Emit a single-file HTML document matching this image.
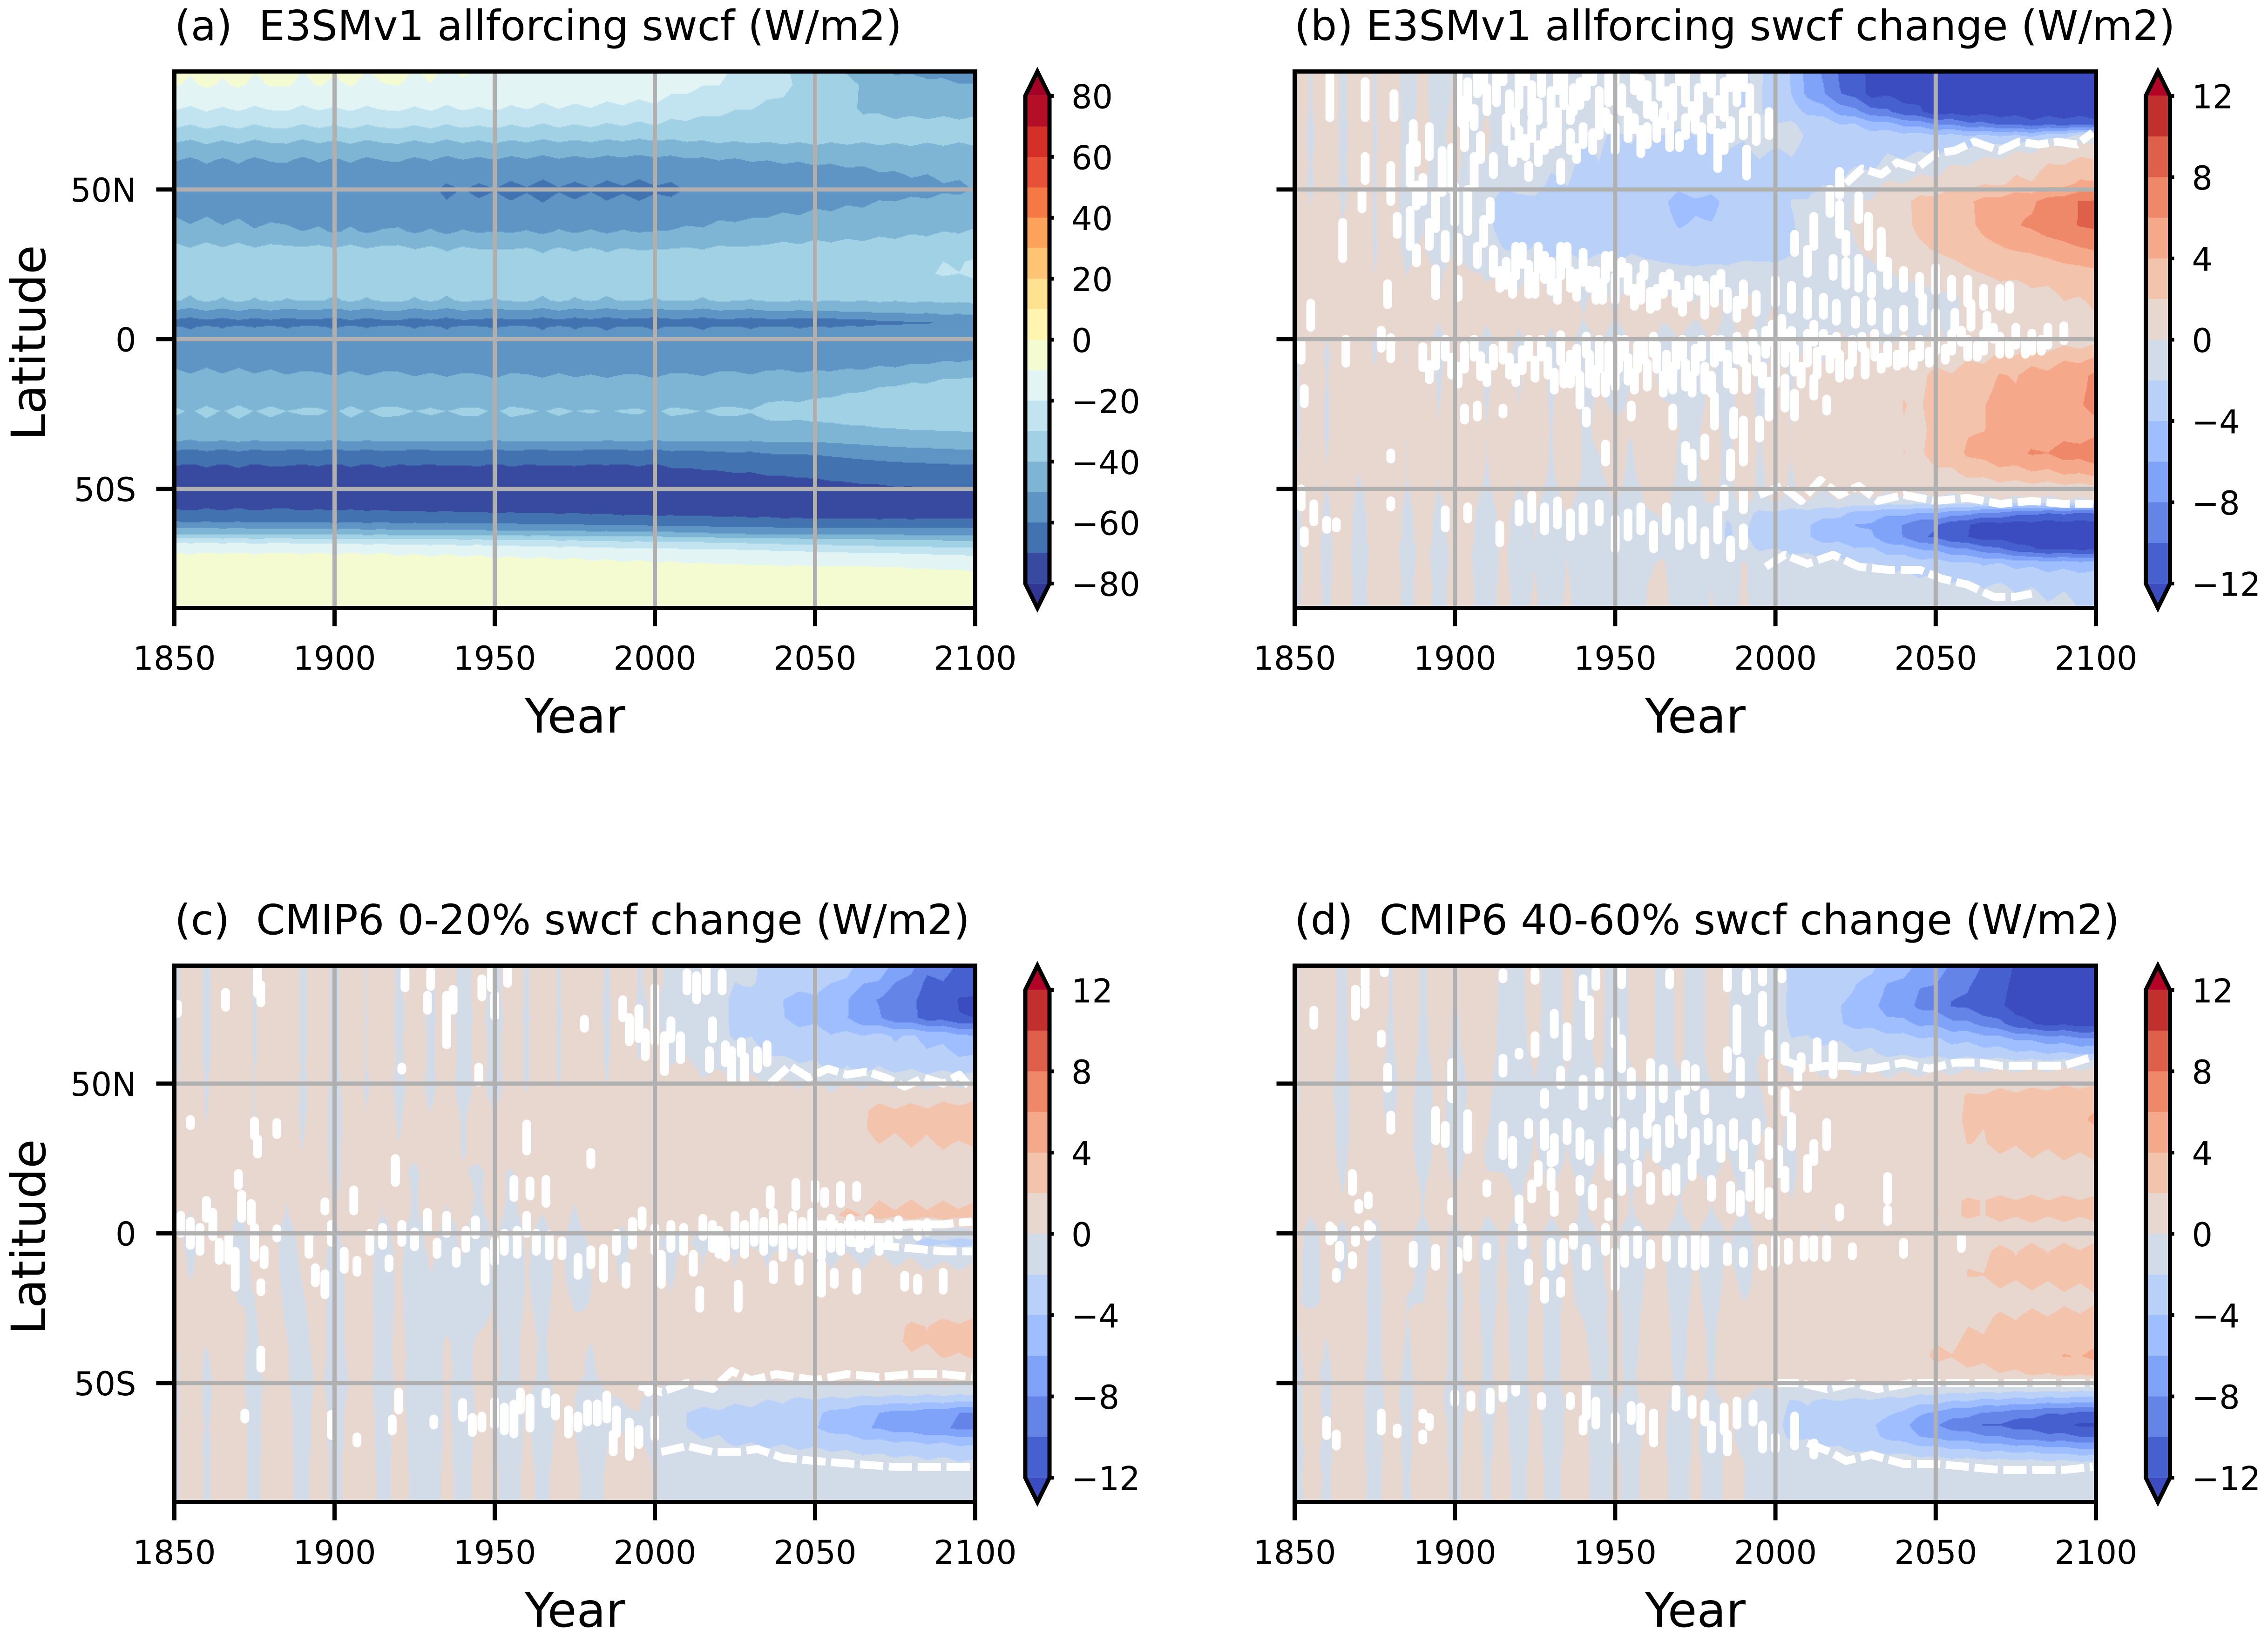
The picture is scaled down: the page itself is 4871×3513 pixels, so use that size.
<!DOCTYPE html>
<html lang="en">
<head>
<meta charset="utf-8">
<title>SWCF latitude-time panels</title>
<style>
html,body{margin:0;padding:0;background:#fff;}
svg{display:block;}
text{font-family:"DejaVu Sans","Liberation Sans",sans-serif;fill:#000;}
.title{font-size:89px;white-space:pre;}
.axis-label{font-size:102px;}
.tick-label{font-size:70px;}
</style>
</head>
<body>
<svg id="figure" xmlns="http://www.w3.org/2000/svg" width="4871" height="3513" viewBox="0 0 4871 3513">
  <rect x="0" y="0" width="4871" height="3513" fill="#ffffff"/>
  <text class="title" x="375" y="86" xml:space="preserve">(a)  E3SMv1 allforcing swcf (W/m2)</text>
  <text class="title" x="2780" y="86" xml:space="preserve">(b) E3SMv1 allforcing swcf change (W/m2)</text>
  <text class="title" x="375" y="2006" xml:space="preserve">(c)  CMIP6 0-20% swcf change (W/m2)</text>
  <text class="title" x="2780" y="2006" xml:space="preserve">(d)  CMIP6 40-60% swcf change (W/m2)</text>
  <text class="axis-label" x="1235" y="1573" text-anchor="middle">Year</text>
  <text class="axis-label" x="3641" y="1573" text-anchor="middle">Year</text>
  <text class="axis-label" x="1235" y="3493" text-anchor="middle">Year</text>
  <text class="axis-label" x="3641" y="3493" text-anchor="middle">Year</text>
  <text class="axis-label" transform="translate(97,736) rotate(-90)" text-anchor="middle">Latitude</text>
  <text class="axis-label" transform="translate(97,2656) rotate(-90)" text-anchor="middle">Latitude</text>
</svg>
<script>
/* ---------- shared axis values ---------- */
const yearTicks = [1850, 1900, 1950, 2000, 2050, 2100];
const latTickValues = [50, 0, -50];
const latTickLabels = ['50N', '0', '50S'];
const streakYears = [1850,1855,1860,1865,1870,1875,1880,1885,1890,1895,1900,1905,1910,1915,1920,1925,1930,1935,1940,1945,1950,1955,1960,1965,1970,1975,1980,1985,1990,1995,2000,2005,2010,2015,2020,2025,2030,2035,2040,2045,2050,2055,2060,2065,2070,2075,2080,2085,2090,2095,2100];

/* ---------- colour levels ---------- */
const levelsMean = [-80,-70,-60,-50,-40,-30,-20,-10,0,10,20,30,40,50,60,70,80];
const colorsMean = ['#313695','#374a9f','#4372b1','#5f95c4','#7eb5d5','#a1d1e4','#c2e4f0','#e2f4f4','#f5fbd1','#fff5b0','#fee292','#fdc476','#fca25b','#f57944','#e75137','#d43027','#b40f26','#a50026'];
const cbarTicksMean = [80,60,40,20,0,-20,-40,-60,-80];
const levelsChange = [-12,-10,-8,-6,-4,-2,0,2,4,6,8,10,12];
const colorsChange = ['#3b4cc0','#4760d0','#6484e8','#7fa3f8','#9ebeff','#b9d0f9','#d2dbe8','#e8d7cf','#f4c3ac','#f6a98a','#ef8769','#de604b','#c2302e','#b40426'];
const cbarTicksChange = [12,8,4,0,-4,-8,-12];

/* ---------- panel (a): mean swcf ---------- */
const yearsA = [1850,1900,1950,2000,2025,2050,2075,2100];
const latsA = [90,85,77,74,71,66,60,55,50,46,40,36,30,26,22,18,13,10,7,5.5,4,0,-7,-10,-13,-20,-24,-28,-31,-34,-37,-42,-50,-57,-60,-61,-63,-65,-66.5,-68,-71.5,-76,-90];
const swcfA = [
[-8,-8.5,-10.2,-14,-20,-35,-52,-55],
[-10,-10.5,-12,-15,-22,-33,-45,-50],
[-20,-20,-20,-22,-29,-35,-44,-43],
[-25,-25,-25,-28,-32,-36,-40,-40],
[-30,-30,-30,-31,-34,-36,-37,-37],
[-40,-40,-40,-41,-39.5,-39,-39,-39],
[-50,-50,-51,-52,-50,-48,-46,-45],
[-55,-55,-57,-58,-56,-55,-50.5,-48],
[-57,-57,-61.5,-61.5,-58,-56,-54,-50],
[-56,-57,-59,-59,-56,-53,-49.5,-47],
[-50,-53,-55,-54,-50.5,-47.5,-45,-43],
[-46,-50,-50.5,-50,-47,-44,-42,-39.5],
[-38,-38,-40,-40,-39,-37,-36,-34],
[-35,-35,-36,-36,-35,-34,-32,-29.5],
[-34,-34,-34,-34,-34,-33,-31,-29],
[-36,-36,-36,-36,-36,-36,-34,-32],
[-40,-40,-40,-40,-40,-39.5,-39,-38],
[-50,-50,-50,-50,-50,-48,-46,-45],
[-59.5,-59.5,-59.5,-60,-60,-60,-56,-53],
[-66,-64,-65,-68,-68,-68,-62,-58],
[-59.5,-59.5,-59.5,-60,-60,-60,-57,-55],
[-55,-56,-56,-56,-56,-56,-55,-54],
[-54,-54,-54,-54,-54,-53,-52,-50],
[-50.5,-52,-53,-53,-52,-51,-49,-46],
[-47,-48,-49,-49,-48,-47,-42,-39.5],
[-43,-43,-43,-43,-43,-40,-36,-35],
[-39.6,-39.6,-39.7,-39.9,-39.6,-37,-35,-34],
[-42,-42,-42,-42,-42,-40.5,-38,-37],
[-45,-45,-45,-45,-45,-44,-41,-40],
[-50,-50,-50,-50,-50,-49,-46,-45],
[-60,-60,-60,-60,-59,-57,-52,-50],
[-70,-70,-70,-70,-68,-66,-62,-60],
[-76,-76,-76,-76,-75,-73,-71,-70],
[-70,-70,-72,-73,-73,-73,-73,-73],
[-62,-63,-65,-68,-69,-70,-70,-70],
[-60,-61,-62,-65,-66,-67,-67,-68],
[-50,-52,-54,-57,-59,-60,-60,-60],
[-42,-42,-44,-46,-50,-51,-52,-53],
[-30,-31,-33,-36,-39,-41,-42,-44],
[-20,-21,-23,-28,-30,-33,-35,-37],
[-10,-10,-11,-13,-15,-18,-20,-22],
[-6,-6,-7,-8,-9,-9.5,-10,-11],
[-2,-2,-2,-2,-2,-2,-2,-2]
];
const streakNorthA = [
.9,-1.2,1.5,-.8,1.4,-1.3,.8,1.2,-1.5,1,
-.8,1.3,-1.1,.7,1.4,-.9,1.2,-1.4,.9,-.7,
1.2,-1,.8,-1.3,.9,-.6,1,-.8,.6,-1,
.7,-.8,.6,-.5,.8,-.7,.6,-.5,.7,-.6,
.8,-.6,.5,-.8,.6,-.5,.7,-.6,.5,-.7,.5];
const streakTropicsA = [
1,-1.4,1.6,-1,1.8,-.6,1.5,-1.2,1.2,.6,
-1.3,1.5,-.8,1.3,1.7,-1,1.4,-1.2,1.6,.8,
-1.3,1.5,1.1,-1.2,1.7,-1,.9,-1.3,1,.7,
-1.2,1.4,.9,-1,1.5,1.2,-.8,1.3,1.5,-.5,
.6,-.6,.5,-.5,.6,-.5,.4,-.5,.5,-.4,.3];
const streakSouthA = [
.3,-.4,.5,-.3,.6,-.4,.3,.5,-.4,.3,
-.5,.4,-.3,.5,-.4,.3,-.4,.5,-.3,.4,
-.5,.3,-.4,.4,-.3,.5,-.3,.3,-.5,.3,
-.3,.2,-.2,.3,-.2,.2,-.2,.2,-.2,.2,
-.2,.2,-.1,.2,-.2,.1,-.2,.1,-.1,.2,-.1];

/* ---------- panel (b): E3SMv1 change ---------- */
const yearsB = [1850,1880,1900,1920,1950,1975,2000,2015,2030,2050,2065,2080,2100];
const latsB = [89.5,82,76,72,68,64,58,52,46,38,30,22,14,7,1,-5,-12,-22,-30,-38,-45,-50,-54,-58,-62,-66,-70,-75,-82,-90];
const changeB = [
[.3,.2,-.3,-.6,-.8,-1,-2.4,-8.5,-12.5,-13,-13,-13,-13],
[.3,.2,-.3,-.5,-.7,-1,-2.5,-8,-12.5,-13,-13,-13,-13],
[.3,.2,-.2,-.5,-.7,-1,-2.5,-5,-9,-13,-13,-13,-13],
[.2,.2,-.1,-.4,-.6,-.9,-1.5,-3,-5,-8,-10,-11,-11],
[.2,.2,0,-.4,-2.2,-2.4,-.8,-2.6,-3,-3.5,-4,-4,-1],
[.2,.2,-.1,-.5,-2.5,-2.8,-1.5,-2.7,-2.7,-2.6,-1.5,-.2,1],
[.3,.2,-.2,-.7,-2.8,-2.9,-2.7,-2.6,-2.2,-.5,.6,1.5,3],
[.2,.2,-.3,-1.5,-2.9,-3,-2.8,-2.3,-.4,.8,1.5,2.5,4.5],
[.3,.2,-1,-2.8,-3,-4.6,-2.8,-1,.3,3,4.3,6,8.5],
[.3,.2,-1,-2.7,-3,-4,-2.9,-.8,.5,2.8,4.2,6.5,8.5],
[.3,.2,-.6,-2.3,-2.8,-3,-2.8,-1,.3,2.2,3.4,4.4,6.2],
[.5,.3,.2,-.2,-.6,-1.5,-1.2,-.5,-.4,.8,2.1,2.5,3.5],
[.6,.6,.5,.3,.2,.2,-.2,-.6,-.9,-.4,.6,1.5,2.4],
[.6,.8,.6,.5,.5,.4,-.1,-.5,-.7,-.3,.4,1,1.6],
[.3,.3,.2,.2,-.1,-.2,0,-.2,-.2,0,.2,.2,.5],
[.1,.2,.1,-.1,-.3,-.6,-.2,.2,.3,.8,1.5,2.5,3.5],
[.2,.3,.3,.2,-.1,-.3,.2,.6,.9,2.2,3.3,4.5,6.2],
[.1,.3,.4,.3,.1,-.1,.1,.7,1.1,2.5,4.2,5,6.5],
[.1,.3,.5,.4,.2,.1,.2,.7,1.2,2.2,4.2,4.5,5],
[.2,.3,.4,.4,.2,.1,.2,.7,1.2,2.4,5,6,7.5],
[.3,.4,.3,.3,.2,.1,.1,.5,.8,1.5,2.6,3.5,4.3],
[.2,.3,.2,.1,0,-.1,.1,.3,.5,.6,.7,.9,1.1],
[.1,.2,.1,-.1,-.2,-.2,-.1,-.2,-.5,-.6,-.4,-.3,-.2],
[.1,.1,0,-.3,-.4,-.7,-2.5,-3,-5,-6,-8,-9.5,-10],
[0,.1,-.1,-.3,-.6,-.9,-3,-4.5,-6.5,-10,-13,-13,-13],
[0,.1,-.1,-.3,-.6,-1,-3,-4.5,-6,-10.5,-13,-13,-13],
[0,-.1,-.2,-.4,-.7,-1,-2.2,-3,-4,-6.5,-9,-12,-12.5],
[0,0,-.2,-.4,-.5,-.6,-.3,-1.2,-2.2,-3,-4,-4.5,-5],
[0,.1,-.1,-.3,-.4,-.4,-.4,-.6,-.9,-1.3,-2,-2.3,-2.5],
[.1,0,-.1,-.2,-.3,-.3,-.3,-.4,-.5,-.7,-.9,-1.2,-2.1]
];
const streakNorthB = [
.5,-.4,.6,-.5,.5,-.3,.4,-.5,.3,-.4,
.5,-.3,.4,-.5,.3,.5,-.4,.3,-.5,.4,
-.3,.5,-.4,.3,-.5,.4,-.3,.4,-.3,.4,
-.5,.3,-.3,.2,-.4,.3,-.3,.4,-.2,.3,
-.4,.3,-.3,.4,-.2,.3,-.4,.3,-.2,.3,-.3];
const streakTropicsB = [
-.5,.6,-.3,.5,.6,-.4,.7,-.2,.5,-.6,
.6,.3,-.5,.5,-.4,.5,-.3,.6,-.5,.3,
-.6,.4,.7,-.4,.3,-.5,.4,-.6,.6,-.3,
.4,-.5,.3,-.4,.4,-.3,.4,-.4,.3,-.4,
.4,-.5,.3,-.4,.5,-.3,.4,-.5,.3,-.4,.3];
const streakSouthB = [
-.4,.5,-.3,.6,-.5,.4,.6,-.4,.5,-.3,
.5,.3,-.4,.6,-.2,.4,-.5,.5,-.3,-.4,
.3,-.5,.4,.7,-.4,-.2,.4,-.4,.6,-.3,
.3,-.3,.2,-.3,.3,-.2,.3,-.3,.2,-.3,
.2,-.3,.2,-.2,.3,-.2,.2,-.3,.2,-.2,.2];
const dashesB = [
[1855,8,8],[1852,-4,6],[1853,-19,5],[1866,-4,8],[1877,0,6],[1880,-3,7],[1861,81,14],[1872,80,12],[1881,78,8],[1887,66,12],[1886,58,12],[1872,57,8],[1880,52,12],[1871,46,5],[1888,48,7],[1865,33,12],[1882,38,6],[1886,37,12],[1879,15,7],[1894,19,9],[1901,17,6],[1888,28,5],[1896,56,14],[1899,57,14],[1906,56,10],[1894,43,12],[1900,45,12],[1904,43,14],[1911,43,6],[1901,30,8],[1907,28,6],[1897,31,8],[1892,35,8],
[1901,84,10],[1904,80,12],[1907,86,8],[1910,80,8],[1913,84,10],[1917,78,8],[1920,84,12],[1924,80,10],[1927,86,8],[1930,78,10],[1934,84,12],[1937,80,8],[1941,85,8],[1945,78,10],[1948,84,10],[1952,80,8],[1956,86,6],[1960,80,10],[1964,85,8],[1968,79,10],[1972,84,10],[1976,80,8],[1980,86,8],[1984,80,12],[1988,84,10],[1992,80,8],
[1916,70,8],[1920,66,8],[1924,70,6],[1928,66,6],[1932,71,10],[1936,66,6],[1940,68,6],[1945,72,8],[1950,67,8],[1954,70,6],[1958,66,8],[1963,70,6],[1967,68,8],[1972,71,6],[1977,67,8],[1982,63,12],[1986,70,6],[1990,72,8],[1994,70,8],[1998,72,8],[1923,56,4],[1933,56,6],[1991,59,9],
[1912,26,8],[1916,22,8],[1919,26,10],[1923,20,10],[1926,27,8],[1930,21,10],[1933,26,10],[1936,20,6],[1940,24,10],[1944,18,10],[1947,24,8],[1950,17,8],[1954,20,8],[1958,17,8],[1961,13,6],[1965,18,6],[1969,15,6],[1973,17,6],[1978,13,10],[1981,16,8],[1985,13,6],[1990,15,7],[1994,12,6],
[1890,-6,7],[1894,-5,8],[1899,-9,6],[1903,-6,8],[1908,-9,7],[1912,-6,6],[1917,-9,6],[1921,-7,7],[1925,-10,6],[1929,-8,8],[1933,-3,9],[1936,-10,10],[1939,-17,10],[1942,-10,10],[1945,-5,10],[1948,-8,12],[1951,-5,10],[1954,-10,8],[1957,-6,8],[1960,-12,8],[1963,-6,8],[1966,-10,10],[1969,-5,8],[1972,-12,8],[1975,-7,8],[1978,-13,8],[1981,-4,8],[1985,-10,10],[1988,-3,8],[1991,-13,8],[1994,-7,8],[1997,-1,8],[2000,-8,14],[2003,-3,10],[2006,-7,8],[2010,-3,10],[2013,-8,8],[2017,-5,10],[2020,-9,8],[2024,-4,8],[2028,-8,8],[2031,-2,8],[2035,-5,6],[2040,-4,8],[2045,-3,6],[2050,0,8],[2055,-1,6],[2060,-3,6],[2065,-1,6],[2070,-2,6],[2075,1,6],[2080,-1,6],[2085,1,6],[2090,2,5],
[2003,-18,10],[1998,-20,12],[2006,-22,8],[2012,-16,6],[2016,-22,4],[1981,-24,10],[1987,-28,8],[1990,-34,14],[1995,-30,6],[1968,-26,6],[1978,-36,6],[1986,-42,8],[1974,-42,8],[1972,-38,5],[1955,-24,4],[1941,-26,4],[1947,-38,6],[1903,-25,4],[1907,-24,4],[1880,-39,2],[1915,-24,2],
[2020,52,8],[2017,46,8],[2020,40,10],[2026,44,8],[2022,32,6],[2029,36,10],[2033,30,12],[2012,36,10],[2006,32,6],[2010,26,8],[2018,24,6],[2022,22,8],[2026,22,10],[2030,18,6],[2035,22,8],[2040,20,6],[2045,18,6],[2050,20,8],[2055,17,6],[2060,16,8],[2065,14,6],[2070,14,6],[2073,14,8],[2000,16,8],[2005,14,8],[2010,12,8],[2015,11,6],[2019,9,6],[2025,9,8],[2030,9,6],[2035,6,6],[2040,7,6],[2046,10,8],[2050,5,8],[2056,6,6],[2061,8,8],[2066,5,6],
[1852,-53,6],[1856,-58,6],[1853,-66,4],[1860,-62,3],[1863,-62,2],[1880,-55,2],[1897,-60,6],[1904,-58,4],[1914,-65,6],[1920,-58,6],[1924,-56,8],[1928,-60,8],[1932,-58,8],[1936,-62,8],[1940,-60,8],[1945,-58,6],[1950,-65,10],[1954,-62,8],[1958,-60,8],[1962,-66,8],[1966,-60,8],[1970,-65,8],[1974,-62,10],[1978,-68,8],[1982,-62,10],[1986,-70,6],[1990,-66,6],[1984,-53,6],[1990,-54,6],
[1902,76,8],[1906,74,6],[1909,86,6],[1915,88,4],[1919,74,4],[1922,88,4],[1926,76,6],[1932,86,6],[1936,75,4],[1939,82,8],[1943,88,4],[1947,74,4],[1950,88,4],[1954,74,4],[1958,84,6],[1962,76,4],[1966,80,6],[1970,88,4],[1974,76,4],[1978,86,4],[1982,78,4],[1986,86,4],[1990,86,4],
[1918,62,6],[1922,64,6],[1926,62,6],[1930,68,6],[1938,62,4],[1943,66,6],[1948,72,4],[1956,72,4],[1960,68,6],[1965,74,4],[1970,66,4],[1975,72,4],[1980,72,4],[1984,66,6],[1888,62,6],[1892,66,10],[1903,68,8],[1908,64,8],[1912,58,6],[1890,50,8],[1909,36,8],
[1914,20,6],[1918,18,6],[1921,28,6],[1925,18,6],[1928,24,8],[1932,16,6],[1935,28,6],[1938,18,8],[1942,20,6],[1946,16,6],[1949,26,4],[1952,24,4],[1956,14,6],[1959,23,4],[1963,14,6],[1967,20,4],[1971,12,6],[1976,18,4],[1983,20,4],[1988,10,6],
[1892,-11,5],[1897,-3,6],[1901,-12,6],[1906,-3,6],[1910,-12,5],[1915,-4,6],[1919,-12,5],[1923,-3,6],[1927,-3,6],[1931,-14,6],[1934,-12,6],[1938,-7,8],[1941,-2,6],[1944,-14,8],[1947,-15,6],[1950,-13,6],[1953,-3,6],[1956,-14,6],[1959,-4,6],[1962,-2,6],[1965,-15,6],[1968,-13,8],[1971,-3,6],[1974,-15,6],[1977,-3,6],[1980,-15,6],[1983,-3,6],[1987,-14,6],[1990,-5,6],[1993,-1,6],[1996,-12,6],[1999,2,6],[2002,4,6],[2005,0,6],[2008,-12,6],[2012,2,6],[2015,-1,6],[2019,-2,6],[2023,-10,4],[2027,-1,4],[2033,-8,4],[2038,-7,4],[2043,-7,4],[2048,-6,4],[2053,-5,4],[2058,1,4],[2063,-4,4],[2068,2,4],[2073,-3,4],[2078,-3,4],[2083,-2,4]
];
const linesB = [
[[2022,52],[2027,57],[2033,55],[2038,59],[2044,57],[2050,62],[2056,63],[2062,66],[2070,63],[2076,66],[2082,65],[2088,66],[2094,65],[2099,69]],
[[1995,-52],[2002,-49],[2008,-54],[2014,-47],[2020,-52],[2026,-49],[2032,-54],[2040,-52],[2050,-54],[2060,-53],[2070,-55],[2080,-54],[2090,-55],[2099,-55]],
[[1997,-76],[2003,-72],[2010,-75],[2018,-72],[2026,-76],[2035,-77],[2045,-77],[2052,-80],[2060,-82],[2068,-86],[2075,-86],[2080,-85]]
];

/* ---------- panel (c): CMIP6 0-20% change ---------- */
const yearsC = [1850,1900,1950,1975,1995,2010,2025,2040,2055,2070,2085,2100];
const latsC = [89.5,84,78,72,66,60,55,50,41,35,29,20,11,6,2,-3,-7,-15,-25,-31,-36,-41,-47,-51,-55,-60,-65,-70,-75,-80,-90];
const changeC = [
[.1,.3,.1,.3,.2,-.3,-1.8,-2.3,-3,-5,-9,-10.5],
[.1,.3,.1,.3,.2,-.3,-1.8,-2.5,-3.5,-6.5,-10,-11],
[.1,.3,.1,.3,.1,-.5,-2.2,-4.2,-5,-8.5,-10.5,-12.5],
[.1,.3,0,.3,.1,-.6,-2.2,-4.1,-5.2,-8.2,-10.5,-12.2],
[.1,.3,.1,.3,.2,-.4,-2.1,-2.8,-3.5,-3.8,-4.2,-6],
[.1,.3,.1,.3,.2,-.3,-1,-2.4,-2.8,-3.2,-3.4,-4.3],
[.2,.3,.1,.3,.4,.2,-.4,-.8,-2.1,-2.2,-2.4,-2.7],
[.3,.2,0,.4,.5,.5,.3,.1,-.1,-.2,-.3,-.3],
[.2,.1,.3,.6,.6,.7,.9,1,1.3,2.3,2.6,3],
[.2,.1,.3,.5,.6,.8,1,1.2,1.4,2.4,2.6,3.3],
[.1,.1,.2,.5,.6,.7,.9,1,1.2,1.5,1.9,1.9],
[.2,.1,.1,.3,.5,.5,.5,.6,.7,.7,.7,.7],
[.3,.3,.2,.3,.6,.5,.5,.7,1.3,1.7,1.8,1.7],
[.2,.4,.1,.2,.7,.6,.4,.9,2,2.4,2.6,2.8],
[0,.2,-.1,.1,.2,.2,.2,.3,.4,.2,.1,.3],
[0,0,-.1,-.2,-.2,-.2,-.3,-.5,-1,-1.6,-2.4,-2.6],
[.1,-.1,-.2,-.2,-.1,.1,.2,.1,0,-.2,-.5,-.6],
[.1,-.1,-.3,-.2,0,.2,.3,.4,.4,.6,.6,.7],
[.2,-.1,-.3,0,.3,.4,.5,.7,.8,.9,1.1,1.2],
[.2,-.1,-.2,.1,.4,.5,.6,.8,1.1,1.6,2.2,2.5],
[.2,-.1,-.1,.2,.4,.6,.7,.9,1.2,1.7,2.3,2.9],
[.1,-.1,-.1,.1,.4,.5,.6,.7,.9,1.4,1.8,2.2],
[.1,-.2,-.1,.1,.4,.4,.4,.4,.5,.6,.6,.7],
[.1,-.2,-.2,-.2,.1,-.1,-.1,-.2,-.2,-.1,-.2,-.1],
[.1,-.1,-.3,-.4,-.5,-1,-1.4,-1.9,-2,-2.4,-2.6,-2.6],
[.1,0,-.3,-.4,-.6,-2.2,-2.5,-2.7,-4.3,-6.2,-7,-8.2],
[.2,0,-.2,-.4,-.6,-2.2,-2.6,-3.2,-4.5,-6.3,-7.5,-8.6],
[.1,0,-.2,-.3,-.4,-1.4,-2.1,-2.3,-2.6,-3.5,-4,-4.4],
[.1,.1,-.2,-.2,-.3,-.5,-.9,-1.1,-1.3,-1.6,-2,-2.2],
[.1,.1,-.1,-.1,-.2,-.4,-.5,-.6,-.7,-.8,-.8,-.9],
[.1,.1,-.1,-.1,-.2,-.4,-.5,-.5,-.5,-.6,-.6,-.6]
];
const streakNorthC = [
-.5,.6,-.4,.5,.7,-.3,.4,.8,-.5,.5,
-.6,.4,-.3,.6,-.5,.4,-.4,.5,-.6,.3,
-.5,.4,-.3,.6,-.4,.5,.7,-.5,.8,-.3,
.3,-.2,.2,-.3,.2,-.2,.3,-.3,.2,-.3,
.3,-.4,.3,-.3,.4,-.3,.3,-.4,.3,-.3,.2];
const streakTropicsC = [
.5,-.4,.4,.6,-.5,.3,.5,-.6,.4,.6,
-.4,.5,.6,-.5,.4,-.6,.5,-.4,.3,-.5,
.4,-.6,.3,-.3,.5,-.5,.4,.6,-.3,.7,
.4,-.3,.3,-.2,.3,-.3,.2,-.3,.3,-.2,
.3,-.3,.2,-.3,.3,-.2,.3,-.3,.2,-.3,.2];
const streakSouthC = [
-.4,.6,-.3,.5,.4,-.5,.6,.3,-.6,.5,
-.4,.3,.6,-.5,.5,-.3,-.6,.4,-.4,.5,
.3,-.5,.5,-.3,.6,.4,-.5,.3,.5,.6,
.2,-.2,.2,-.2,.2,-.2,.2,-.2,.2,-.2,
.2,-.2,.2,-.2,.2,-.2,.2,-.2,.2,-.2,.1];
const dashesC = [
[1866,78,5],[1876,84,8],[1877,80,6],[1922,85,6],[1930,85,5],[1935,76,7],[1937,78,7],[1935,68,10],[1949,86,8],[1950,76,7],[1954,86,5],[1929,77,5],[1946,82,6],[1978,70,3],[1945,53,5],[1921,55,1],[1851,75,3],
[1855,37,2],[1875,35,5],[1876,29,5],[1882,35,4],[1960,32,9],[1980,25,4],[1919,21,8],[1956,15,6],[1961,15,5],[1966,14,8],[1870,18,4],[1906,11,7],[1897,9,3],
[1990,75,6],[1992,68,8],[1995,70,10],[1997,63,8],[2000,78,8],[2000,70,12],[2003,60,12],[2005,68,6],[2008,62,8],[2010,84,6],[2013,82,8],[2016,85,8],[2018,68,6],[2021,84,6],[2017,58,6],[2022,60,6],[2024,56,10],[2027,62,4],[2028,55,8],[2032,58,6],[2035,60,6],
[1852,3,6],[1855,0,8],[1858,-2,8],[1860,8,6],[1862,3,8],[1864,-6,6],[1867,-5,8],[1869,-12,12],[1871,9,8],[1874,7,6],[1875,-3,10],[1878,-8,5],[1882,0,3],[1877,-18,3],[1892,-4,6],[1894,-14,5],[1897,-17,7],[1899,0,6],[1903,-9,6],[1907,-11,4],[1911,-3,6],[1915,-1,6],[1917,-10,3],[1921,0,6],[1925,-2,5],[1929,4,6],[1932,-5,4],[1935,3,6],[1938,-8,4],[1941,-2,6],[1944,2,5],[1947,-11,10],[1950,-6,7],[1953,-3,6],[1957,-3,8],[1960,3,6],[1963,-3,6],[1967,-4,7],[1971,-5,5],[1976,-11,6],[1980,-8,5],[1984,-10,10],[1988,-3,6],[1991,-14,6],[1993,0,8],[1996,5,5],[2000,-2,8],[2002,-12,10],[2005,-1,8],[2009,-2,8],[2012,-10,6],[2015,2,6],[2018,-1,8],[2022,-5,6],[2014,-22,6],[2026,-21,8],[2020,-3,8],
[2025,1,10],[2028,-2,10],[2031,2,10],[2034,-1,10],[2037,2,10],[2040,-3,10],[2043,1,10],[2046,-1,10],[2049,1,12],[2052,-3,10],[2055,0,10],[2058,-2,8],[2061,1,8],[2064,-1,8],[2067,1,8],[2070,-2,8],[2073,0,6],[2076,2,5],[2082,1,4],[2085,2,3],
[2044,13,8],[2050,14,5],[2053,12,4],[2058,13,6],[2063,14,4],[2037,-13,5],[2045,-13,6],[2052,-15,10],[2056,-15,4],[2063,-16,6],[2078,-16,4],[2082,-17,4],[2090,-16,6],[2036,12,5],
[1877,-42,6],[1872,-61,2],[1899,-64,7],[1907,-69,2],[1920,-56,6],[1918,-64,4],[1931,-63,2],[1940,-59,5],[1943,-64,5],[1946,-63,4],[1950,-60,8],[1953,-62,8],[1956,-62,10],[1958,-56,6],[1961,-60,10],[1966,-55,4],[1969,-58,6],[1973,-63,8],[1976,-63,4],[1979,-60,6],[1982,-60,6],[1985,-58,8],[1988,-63,8],[1992,-66,6],[1987,-70,6],[1992,-72,5],[1995,-68,5],[2000,-65,6],[1998,-52,2]
];
const linesC = [
[[2036,50],[2042,56],[2048,52],[2054,55],[2060,53],[2066,54],[2072,52],[2078,49],[2084,52],[2090,50],[2095,53],[2099,48]],
[[1995,-51],[2002,-53],[2010,-50],[2018,-52],[2024,-46],[2030,-49],[2038,-47],[2050,-49],[2060,-47],[2070,-48],[2080,-47],[2090,-47],[2099,-48]],
[[2002,-73],[2010,-71],[2018,-73],[2026,-73],[2032,-72],[2040,-75],[2050,-76],[2062,-77],[2075,-78],[2088,-78],[2099,-78]],
[[2060,-3],[2070,-4],[2080,-5],[2090,-6],[2099,-6]],
[[2050,3],[2060,3],[2070,2],[2080,3],[2090,3],[2099,4]]
];

/* ---------- panel (d): CMIP6 40-60% change ---------- */
const yearsD = [1850,1900,1950,1975,1995,2005,2020,2035,2050,2065,2080,2100];
const latsD = [89.5,82,76,70,65,60,56,51,46,38,30,24,16,11,6,1,-6,-14,-22,-28,-35,-41,-47,-51,-56,-60,-64,-68,-72,-77,-82,-90];
const changeD = [
[.2,.2,-.2,-.1,-.3,-2.2,-2.6,-4.5,-7,-10,-13,-13],
[.2,.2,-.2,-.1,-.3,-2.2,-2.8,-6,-8.5,-11,-13,-13],
[.2,.2,-.2,-.1,-.3,-2.3,-4.2,-6.5,-9,-11.5,-13,-13],
[.2,.1,-.2,-.1,-.3,-2.2,-4.1,-5.2,-6.5,-8.5,-12.1,-13],
[.2,.1,-.2,-.1,-.3,-1.8,-2.4,-3,-4,-5,-6.5,-8],
[.2,0,-.2,-.1,-.2,-.5,-1.5,-2.2,-2.6,-3,-3.6,-4.2],
[.2,-.1,-.3,-.2,-.1,0,-.3,-.5,-.6,-.5,-.4,-.3],
[.2,-.2,-.4,-.4,-.2,.3,.4,.4,.6,.9,1,1.2],
[.1,-.2,-.5,-.5,-.3,.3,.6,.8,1.1,2.3,2.8,3.2],
[.2,-.2,-.5,-.7,-.4,.1,.6,1,1.5,2.3,3,4.2],
[.2,-.2,-.4,-.5,-.3,0,.6,.9,1.2,2.1,2.5,2.8],
[.2,-.1,-.3,-.3,-.2,0,.5,.7,.9,1.2,1.6,1.8],
[.3,.2,.1,0,0,.1,.4,.5,.6,.7,.8,.8],
[.4,.3,.2,.2,.1,.2,.4,.6,1.7,2.2,2.3,2.3],
[.4,.3,.2,.1,0,.2,.4,.8,1.8,2.2,2.4,2.4],
[.1,0,-.2,-.3,-.2,.2,.3,.6,.8,.9,1,1.1],
[0,-.1,-.3,-.4,-.2,.2,.4,.6,.9,2,2.2,2.4],
[0,0,-.2,-.3,-.1,.2,.4,.6,1,2.3,2.5,2.7],
[0,-.1,-.2,-.2,0,.3,.5,.6,.9,1.2,1.3,1.6],
[.1,0,-.1,-.1,.2,.5,.6,.7,1,1.9,2.2,2.5],
[.1,0,-.1,0,.3,.5,.7,.9,1.6,2.3,2.9,3.4],
[.1,0,-.1,0,.3,.5,.7,1,2.1,2.6,3.4,4.4],
[0,0,0,.1,.3,.4,.5,.7,1.2,1.6,2,2.4],
[.1,-.1,0,.1,.3,-.1,0,.1,-.2,-.1,-.2,-.2],
[.1,-.2,-.2,-.1,-.4,-2,-2.2,-2.5,-3.5,-4.5,-5,-5.5],
[.1,-.1,-.2,-.2,-.5,-2.3,-2.6,-3.5,-6.5,-8,-9.5,-10.5],
[.1,0,-.2,-.3,-.5,-2.6,-2.9,-4.5,-8,-10,-11,-12.5],
[.1,0,-.2,-.3,-.5,-2.2,-2.7,-4.2,-6.5,-7.5,-9,-10],
[0,0,-.2,-.3,-.4,-1,-2,-2.5,-3.5,-4.5,-5,-6],
[0,.1,-.1,-.2,-.3,-.5,-.5,-.6,-.8,-.8,-1,-1.2],
[.1,.1,-.1,-.2,-.3,-.5,-.5,-.6,-.6,-.7,-.7,-.7],
[0,.1,-.1,-.2,-.3,-.5,-.5,-.5,-.5,-.5,-.5,-.5]
];
const streakNorthD = [
-.4,.5,.3,-.5,.6,.4,-.3,.6,-.4,.5,
-.3,.4,.6,-.4,-.2,.3,-.4,.3,-.2,.4,
-.3,.3,.5,-.2,.3,-.3,.4,.3,-.4,.2,
.3,-.2,.2,-.3,.3,-.2,.3,-.3,.2,-.3,
.3,-.3,.3,-.2,.3,-.3,.2,-.3,.3,-.2,.2];
const streakTropicsD = [
.5,-.5,.4,-.3,.6,-.4,.7,.3,-.4,.5,
-.3,.6,-.4,.3,-.5,.5,-.2,.4,-.5,.3,
.5,-.4,.3,.5,-.4,.5,-.3,.4,-.2,.5,
.3,-.2,.2,-.3,.2,-.3,.3,-.2,.3,-.2,
.3,-.3,.2,-.3,.3,-.2,.3,-.3,.2,-.3,.2];
const streakSouthD = [
-.5,.4,-.3,.6,.3,-.5,.5,-.3,.6,.4,
-.4,.5,-.2,.4,-.5,.5,-.4,.3,.5,-.5,
.3,-.3,.6,.4,-.4,.5,-.3,.5,.3,-.3,
.2,-.2,.2,-.2,.2,-.2,.2,-.2,.2,-.2,
.2,-.2,.2,-.2,.2,-.2,.2,-.2,.2,-.2,.1];
const dashesD = [
[1872,86,6],[1869,77,9],[1872,79,5],[1856,72,5],[1877,65,3],[1915,56,5],[1925,63,6],[1935,64,10],[1942,72,12],[1950,67,8],[1952,60,10],[1931,70,7],[1920,60,1],[1961,54,6],[1972,52,9],[1933,52,5],[1940,47,9],[1950,44,8],[1961,44,11],[1970,42,9],[1978,44,6],[1989,52,11],[1988,68,14],[1996,75,9],[1998,63,7],[1999,52,9],[2007,52,6],[2003,44,7],[1879,52,7],[1899,51,12],[1928,45,4],[1945,50,8],[1955,50,8],[1965,50,10],[1975,52,6],[1985,58,6],[1985,85,6],[1991,84,6],[1996,86,4],[2002,86,2],[1952,86,6],[1944,85,5],[1925,86,3],[1915,86,2],[1878,88,2],[1967,85,4],[1940,82,6],[2003,60,5],[2008,57,4],[2013,60,8],[2018,58,10],
[1880,37,5],[1894,36,10],[1897,33,6],[1904,34,12],[1915,31,10],[1918,27,8],[1923,35,4],[1928,33,8],[1931,28,8],[1935,34,6],[1939,30,8],[1942,27,6],[1948,30,8],[1952,33,8],[1956,30,8],[1960,36,6],[1963,30,10],[1967,34,8],[1971,36,6],[1975,30,8],[1979,34,6],[1983,30,10],[1987,33,8],[1990,26,8],[1994,34,6],[1998,30,8],[2001,24,8],[2005,34,10],[2010,20,10],[2012,27,6],[2016,33,8],
[1948,22,6],[1952,18,8],[1957,20,6],[1961,15,8],[1969,18,8],[1974,22,6],[1980,15,6],[1986,12,8],[1992,16,8],[1995,12,8],[1998,10,8],[1989,10,6],[1995,20,6],[2003,18,6],[1930,18,5],[1924,14,5],[1920,8,7],[1931,10,6],[1939,16,4],[1943,12,6],[1948,8,5],[1966,17,6],[1868,17,6],[1873,11,3],[1870,9,2],[1899,9,3],[1910,15,3],[1926,20,6],[1930,25,3],
[1861,0,5],[1864,-6,4],[1862,0,3],[1873,1,4],[1869,-1,4],[1868,-9,3],[1863,-14,2],[1887,-7,6],[1894,-8,6],[1901,-9,6],[1904,-5,6],[1910,-6,3],[1921,-1,6],[1923,-13,6],[1930,-7,8],[1934,-6,6],[1937,-1,6],[1941,-8,6],[1947,-2,8],[1950,-12,12],[1953,-6,8],[1957,-3,8],[1961,-7,7],[1966,-5,6],[1971,-6,8],[1975,-6,10],[1978,-6,8],[1985,-7,5],[1990,-8,4],[1996,-8,6],[2000,-6,8],[2004,-6,6],[2009,-5,6],[2012,-5,6],[2016,-5,6],[2024,-6,3],[2040,-5,4],[2058,-3,4],[2035,15,8],[2035,6,4],[2020,7,3],[1874,1,2],[1928,-19,6],[1933,-18,4],
[1860,-65,5],[1863,-69,4],[1877,-63,6],[1882,-66,2],[1890,-61,2],[1892,-63,3],[1890,-68,2],[1900,-55,3],[1905,-56,4],[1911,-56,6],[1915,-53,4],[1919,-52,2],[1927,-56,3],[1936,-56,3],[1941,-56,10],[1944,-60,8],[1940,-64,4],[1950,-65,8],[1955,-60,5],[1958,-62,8],[1962,-65,10],[1969,-55,6],[1974,-58,5],[1978,-60,6],[1980,-68,8],[1984,-62,8],[1988,-60,8],[1993,-60,6],[1985,-70,6],[1996,-68,8],[2000,-70,4],[2006,-66,10],[2012,-72,4]
];
const linesD = [
[[2002,58],[2010,55],[2016,56],[2022,56],[2030,55],[2040,57],[2048,55],[2056,57],[2064,57],[2070,56],[2080,56],[2090,56],[2099,59]],
[[2000,-50],[2008,-50],[2016,-52],[2024,-50],[2032,-52],[2042,-50],[2052,-50],[2062,-50],[2072,-50],[2082,-50],[2092,-50],[2099,-50]],
[[2010,-70],[2017,-73],[2022,-76],[2030,-74],[2040,-77],[2050,-77],[2060,-78],[2070,-79],[2080,-79],[2090,-79],[2099,-78]]
];

/* ---------- drawing ---------- */
const svg = document.getElementById('figure');
const NS = 'http://www.w3.org/2000/svg';
function mk(tag, attrs, parent) {
  const el = document.createElementNS(NS, tag);
  for (const k in attrs) el.setAttribute(k, attrs[k]);
  parent.appendChild(el);
  return el;
}
function locate(arr, v, descending) {
  let i = 0;
  const n = arr.length;
  if (descending) {
    while (i < n - 2 && arr[i + 1] > v) i++;
    const f = (arr[i] - v) / (arr[i] - arr[i + 1]);
    return [i, Math.max(0, Math.min(1, f))];
  }
  while (i < n - 2 && arr[i + 1] < v) i++;
  const f = (v - arr[i]) / (arr[i + 1] - arr[i]);
  return [i, Math.max(0, Math.min(1, f))];
}
function bandIndex(levels, v) {
  let i = 0;
  while (i < levels.length && v >= levels[i]) i++;
  return i;
}
function drawPanel(p) {
  const left = p.left, right = p.left + p.w, top = p.top, bottom = p.top + 1152;
  const zero = p.top + 574.9;
  const xOf = (yr) => left + (yr - 1850) * p.w / 250;
  const yOf = (lat) => zero - lat * 6.43;
  const latOf = (py) => (zero - py) / 6.43;
  const yearOf = (px) => 1850 + (px - left) * 250 / p.w;

  const axes = mk('g', {}, svg);
  
  

  /* contour bands from the value grid */
  const step = 2;
  const xEnd = xOf(2099.7);
  const cols = [];
  for (let px = left; px < xEnd; px += step) {
    const yr = yearOf(px + step / 2);
    const loc = locate(p.years, yr, false);
    const sl = locate(streakYears, yr, false);
    const a = sl[0], b = sl[1];
    const sn = (p.streakN[a] || 0) * (1 - b) + (p.streakN[a + 1] || 0) * b;
    const st = (p.streakT[a] || 0) * (1 - b) + (p.streakT[a + 1] || 0) * b;
    const ss = (p.streakS[a] || 0) * (1 - b) + (p.streakS[a + 1] || 0) * b;
    cols.push({ px: px, i: loc[0], f: loc[1], sn: sn, st: st, ss: ss });
  }
  const chunks = p.colors.map(() => []);
  for (let py = top; py < bottom; py += step) {
    const lat = latOf(py + step / 2);
    const rl = locate(p.lats, lat, true);
    const r0 = p.grid[rl[0]], r1 = p.grid[rl[0] + 1], rf = rl[1];
    const wn = Math.max(0, Math.min(1, lat / 50));
    const ws = Math.max(0, Math.min(1, -lat / 50));
    const wt = 1 - wn - ws;
    let run = -1, start = left;
    for (let c = 0; c < cols.length; c++) {
      const C = cols[c];
      const a = r0[C.i] * (1 - C.f) + r0[C.i + 1] * C.f;
      const b = r1[C.i] * (1 - C.f) + r1[C.i + 1] * C.f;
      const v = a * (1 - rf) + b * rf + C.sn * wn + C.st * wt + C.ss * ws;
      const idx = bandIndex(p.levels, v);
      if (idx !== run) {
        if (run >= 0) chunks[run].push('M' + start + ' ' + py + 'h' + (C.px - start) + 'v' + step + 'h' + (start - C.px) + 'z');
        run = idx;
        start = C.px;
      }
    }
    const endX = cols[cols.length - 1].px + step;
    chunks[run].push('M' + start + ' ' + py + 'h' + (endX - start) + 'v' + step + 'h' + (start - endX) + 'z');
  }
  chunks.forEach((c, i) => {
    if (!c.length) return;
    const band = mk('path', { d: c.join(''), fill: p.colors[i], 'shape-rendering': 'crispEdges' }, axes);
    
    
  });

  /* white dashed-contour marks */
  (p.dashes || []).forEach((d) => {
    const dash = mk('line', { x1: xOf(d[0]), x2: xOf(d[0]), y1: yOf(d[1] + d[2] / 2), y2: yOf(d[1] - d[2] / 2), stroke: '#ffffff', 'stroke-width': 19, 'stroke-linecap': 'round' }, axes);
    
    
  });
  (p.lines || []).forEach((ln) => {
    const pts = ln.map((q) => xOf(q[0]) + ',' + yOf(q[1])).join(' ');
    const contour = mk('polyline', { points: pts, fill: 'none', stroke: '#ffffff', 'stroke-width': 17, 'stroke-linejoin': 'round', 'stroke-dasharray': '50 12' }, axes);
    
    
  });

  /* grid */
  yearTicks.slice(1, -1).forEach((yr) => {
    const g = mk('line', { x1: xOf(yr), x2: xOf(yr), y1: top, y2: bottom, stroke: '#b0b0b0', 'stroke-width': 9 }, axes);
    
    
  });
  latTickValues.forEach((lat) => {
    const g = mk('line', { x1: left, x2: right, y1: yOf(lat), y2: yOf(lat), stroke: '#b0b0b0', 'stroke-width': 9 }, axes);
    
    
  });

  /* frame */
  const frame = mk('rect', { x: left, y: top, width: p.w, height: 1152, fill: 'none', stroke: '#000', 'stroke-width': 9 }, axes);
  
  

  /* ticks and labels */
  yearTicks.forEach((yr) => {
    const t = mk('line', { x1: xOf(yr), x2: xOf(yr), y1: bottom, y2: bottom + 39, stroke: '#000', 'stroke-width': 9 }, axes);
    
    
    const lab = mk('text', { x: xOf(yr), y: bottom + 132.5, 'text-anchor': 'middle', class: 'tick-label' }, axes);
    lab.textContent = String(yr);
    
    
  });
  latTickValues.forEach((lat, i) => {
    const t = mk('line', { x1: left - 39, x2: left, y1: yOf(lat), y2: yOf(lat), stroke: '#000', 'stroke-width': 9 }, axes);
    
    
    if (p.showLat) {
      const lab = mk('text', { x: left - 82, y: yOf(lat) + 26, 'text-anchor': 'end', class: 'tick-label' }, axes);
      lab.textContent = latTickLabels[i];
      
      
    }
  });

  /* colour bar */
  const cb = mk('g', {}, svg);
  
  
  const cx0 = p.cbLeft, cx1 = p.cbLeft + 52, cxm = p.cbLeft + 26;
  const cTop = top + 52.4, cBot = top + 1099.6;
  const n = p.levels.length - 1;
  const lo = p.levels[0], hi = p.levels[n];
  const yCb = (v) => cBot - (v - lo) * (cBot - cTop) / (hi - lo);
  const hiTri = mk('path', { d: 'M' + cx0 + ' ' + cTop + 'L' + cxm + ' ' + top + 'L' + cx1 + ' ' + cTop + 'z', fill: p.colors[n + 1] }, cb);
  
  
  const loTri = mk('path', { d: 'M' + cx0 + ' ' + cBot + 'L' + cxm + ' ' + bottom + 'L' + cx1 + ' ' + cBot + 'z', fill: p.colors[0] }, cb);
  
  
  for (let i = 0; i < n; i++) {
    const seg = mk('rect', { x: cx0, y: yCb(p.levels[i + 1]), width: 52, height: yCb(p.levels[i]) - yCb(p.levels[i + 1]), fill: p.colors[i + 1], 'shape-rendering': 'crispEdges' }, cb);
    
    
  }
  const outline = mk('path', { d: 'M' + cx0 + ' ' + cTop + 'L' + cxm + ' ' + top + 'L' + cx1 + ' ' + cTop + 'L' + cx1 + ' ' + cBot + 'L' + cxm + ' ' + bottom + 'L' + cx0 + ' ' + cBot + 'z', fill: 'none', stroke: '#000', 'stroke-width': 9, 'stroke-miterlimit': 10 }, cb);
  
  
  p.cbTicks.forEach((v) => {
    const t = mk('line', { x1: cx1, x2: cx1 + 9, y1: yCb(v), y2: yCb(v), stroke: '#000', 'stroke-width': 8 }, cb);
    
    
    const lab = mk('text', { x: cx0 + 99, y: yCb(v) + 26.5, class: 'tick-label' }, cb);
    lab.textContent = String(v).replace('-', '\u2212');
    
    
  });
}

drawPanel({ id: 'a', left: 374.5, w: 1720, top: 153.5, cbLeft: 2202, years: yearsA, lats: latsA, grid: swcfA, streakN: streakNorthA, streakT: streakTropicsA, streakS: streakSouthA, levels: levelsMean, colors: colorsMean, cbTicks: cbarTicksMean, showLat: true });
drawPanel({ id: 'b', left: 2780.5, w: 1721, top: 153.5, cbLeft: 4608.5, years: yearsB, lats: latsB, grid: changeB, streakN: streakNorthB, streakT: streakTropicsB, streakS: streakSouthB, dashes: dashesB, lines: linesB, levels: levelsChange, colors: colorsChange, cbTicks: cbarTicksChange, showLat: false });
drawPanel({ id: 'c', left: 374.5, w: 1720, top: 2073.5, cbLeft: 2202, years: yearsC, lats: latsC, grid: changeC, streakN: streakNorthC, streakT: streakTropicsC, streakS: streakSouthC, dashes: dashesC, lines: linesC, levels: levelsChange, colors: colorsChange, cbTicks: cbarTicksChange, showLat: true });
drawPanel({ id: 'd', left: 2780.5, w: 1721, top: 2073.5, cbLeft: 4608.5, years: yearsD, lats: latsD, grid: changeD, streakN: streakNorthD, streakT: streakTropicsD, streakS: streakSouthD, dashes: dashesD, lines: linesD, levels: levelsChange, colors: colorsChange, cbTicks: cbarTicksChange, showLat: false });
</script>
</body>
</html>
